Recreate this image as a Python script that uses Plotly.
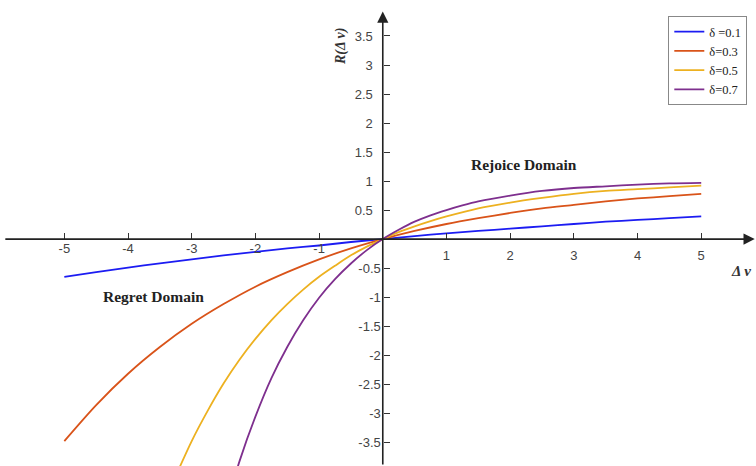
import plotly.graph_objects as go

# Values
x_d01 = [-5, -4.5, -4, -3.5, -3, -2.5, -2, -1.5, -1, -0.5, 0, 0.5, 1, 1.5, 2, 2.5, 3, 3.5, 4, 4.5, 5]
y_d01 = [-0.65, -0.57, -0.49, -0.42, -0.35, -0.28, -0.22, -0.16, -0.11, -0.05, 0, 0.05, 0.10, 0.14, 0.18, 0.22, 0.26, 0.30, 0.33, 0.36, 0.39]

x_d03 = [-5, -4.5, -4, -3.5, -3, -2.5, -2, -1.5, -1, -0.5, 0, 0.5, 1, 1.5, 2, 2.5, 3, 3.5, 4, 4.5, 5]
y_d03 = [-3.48, -2.86, -2.32, -1.86, -1.46, -1.12, -0.82, -0.57, -0.35, -0.16, 0, 0.14, 0.26, 0.36, 0.45, 0.53, 0.59, 0.65, 0.70, 0.74, 0.78]

x_d05 = [-3.25, -3, -2.75, -2.5, -2.25, -2, -1.75, -1.5, -1.25, -1, -0.75, -0.5, -0.25, 0, 0.25, 0.5, 0.75, 1, 1.5, 2, 2.5, 3, 3.5, 4, 4.5, 5]
y_d05 = [-4.08, -3.48, -2.96, -2.49, -2.08, -1.72, -1.40, -1.12, -0.87, -0.65, -0.46, -0.28, -0.13, 0, 0.12, 0.22, 0.31, 0.39, 0.53, 0.63, 0.71, 0.78, 0.83, 0.86, 0.89, 0.92]

x_d07 = [-2.5, -2.25, -2, -1.75, -1.5, -1.25, -1, -0.75, -0.5, -0.25, 0, 0.25, 0.5, 0.75, 1, 1.25, 1.5, 2, 2.5, 3, 3.5, 4, 4.5, 5]
y_d07 = [-4.75, -3.83, -3.06, -2.40, -1.86, -1.40, -1.01, -0.69, -0.42, -0.19, 0, 0.16, 0.30, 0.41, 0.50, 0.58, 0.65, 0.75, 0.83, 0.88, 0.91, 0.94, 0.96, 0.97]

series_names = ["δ =0.1", "δ=0.3", "δ=0.5", "δ=0.7"]
series_colors = ["#1c1cf2", "#D95319", "#EDB120", "#7E2F8E"]

x_neg_ticks = [-5, -4, -3, -2, -1]
x_pos_ticks = [1, 2, 3, 4, 5]
y_pos_ticks = [0.5, 1, 1.5, 2, 2.5, 3, 3.5]
y_neg_ticks = [-0.5, -1, -1.5, -2, -2.5, -3, -3.5]

XR = [-6.01, 5.86]
YR = [-3.91, 4.12]
xpos = (0 - YR[0]) / (YR[1] - YR[0])
ypos = (0 - XR[0]) / (XR[1] - XR[0])

fig = go.Figure()
for xs, ys, name, col in zip([x_d01, x_d03, x_d05, x_d07], [y_d01, y_d03, y_d05, y_d07],
                             series_names, series_colors):
    fig.add_trace(go.Scatter(x=xs, y=ys, mode="lines", name=name,
                             line=dict(color=col, width=1.8, shape="spline", smoothing=0.8),
                             hoverinfo="skip"))
# empty trace to host the overlaying axes
fig.add_trace(go.Scatter(x=[], y=[], xaxis="x2", yaxis="y2", showlegend=False))

tick_font = dict(family="Liberation Sans, Arial", size=13, color="#444444")
common = dict(showgrid=False, zeroline=False, showline=False, ticks="inside",
              ticklen=6, tickwidth=1, tickcolor="#333333", tickfont=tick_font)

fig.update_layout(
    width=756, height=466,
    margin=dict(l=0, r=0, t=0, b=0),
    paper_bgcolor="white", plot_bgcolor="white",
    xaxis=dict(range=XR, domain=[0, 1], anchor="free", position=xpos,
               tickvals=x_neg_ticks, ticktext=[str(v) for v in x_neg_ticks],
               ticklabelstandoff=0, **common),
    xaxis2=dict(range=XR, domain=[0, 1], overlaying="x", anchor="free", position=xpos,
                side="bottom", tickvals=x_pos_ticks, ticktext=[str(v) for v in x_pos_ticks],
                ticklabelstandoff=7, **common),
    yaxis=dict(range=YR, domain=[0, 1], anchor="free", position=ypos,
               tickvals=y_pos_ticks, ticktext=[f"{v:g}" for v in y_pos_ticks],
               ticklabelstandoff=10, **common),
    yaxis2=dict(range=YR, domain=[0, 1], overlaying="y", anchor="free", position=ypos,
                side="left", tickvals=y_neg_ticks, ticktext=[f"{v:g}" for v in y_neg_ticks],
                ticklabelstandoff=2, **common),
    legend=dict(x=0.884, y=1 - 16 / 466, xanchor="left", yanchor="top",
                bgcolor="white", bordercolor="#888888", borderwidth=1,
                font=dict(family="Liberation Serif, Times New Roman", size=12.5, color="#222222"),
                itemwidth=30, tracegroupgap=0),
    showlegend=True,
)

# axis lines with arrowheads
fig.add_annotation(x=5.84, y=0, ax=-5.95, ay=0, xref="x", yref="y", axref="x", ayref="y",
                   text="", showarrow=True, arrowhead=2, arrowsize=1.4, arrowwidth=1.6,
                   arrowcolor="#222222")
fig.add_annotation(x=0, y=3.92, ax=0, ay=YR[0], xref="x", yref="y", axref="x", ayref="y",
                   text="", showarrow=True, arrowhead=2, arrowsize=1.4, arrowwidth=1.6,
                   arrowcolor="#222222")

label_font = dict(family="Liberation Serif, Times New Roman", size=15.5, color="#222222")
fig.add_annotation(x=524 / 756, y=1 - 165 / 466, xref="paper", yref="paper",
                   xanchor="center", yanchor="middle",
                   text="<b>Rejoice Domain</b>", showarrow=False, font=label_font)
fig.add_annotation(x=153 / 756, y=1 - 296 / 466, xref="paper", yref="paper",
                   xanchor="center", yanchor="middle",
                   text="<b>Regret Domain</b>", showarrow=False, font=label_font)
fig.add_annotation(x=341 / 756, y=1 - 47 / 466, xref="paper", yref="paper",
                   xanchor="center", yanchor="middle",
                   text="<b><i>R(Δ v)</i></b>", textangle=-90, showarrow=False,
                   font=dict(family="Liberation Serif, Times New Roman", size=14, color="#333333"))
fig.add_annotation(x=741 / 756, y=1 - 271 / 466, xref="paper", yref="paper",
                   xanchor="center", yanchor="middle",
                   text="<b><i>Δ v</i></b>", showarrow=False,
                   font=dict(family="Liberation Serif, Times New Roman", size=15, color="#333333"))

fig.write_html("out.html")
